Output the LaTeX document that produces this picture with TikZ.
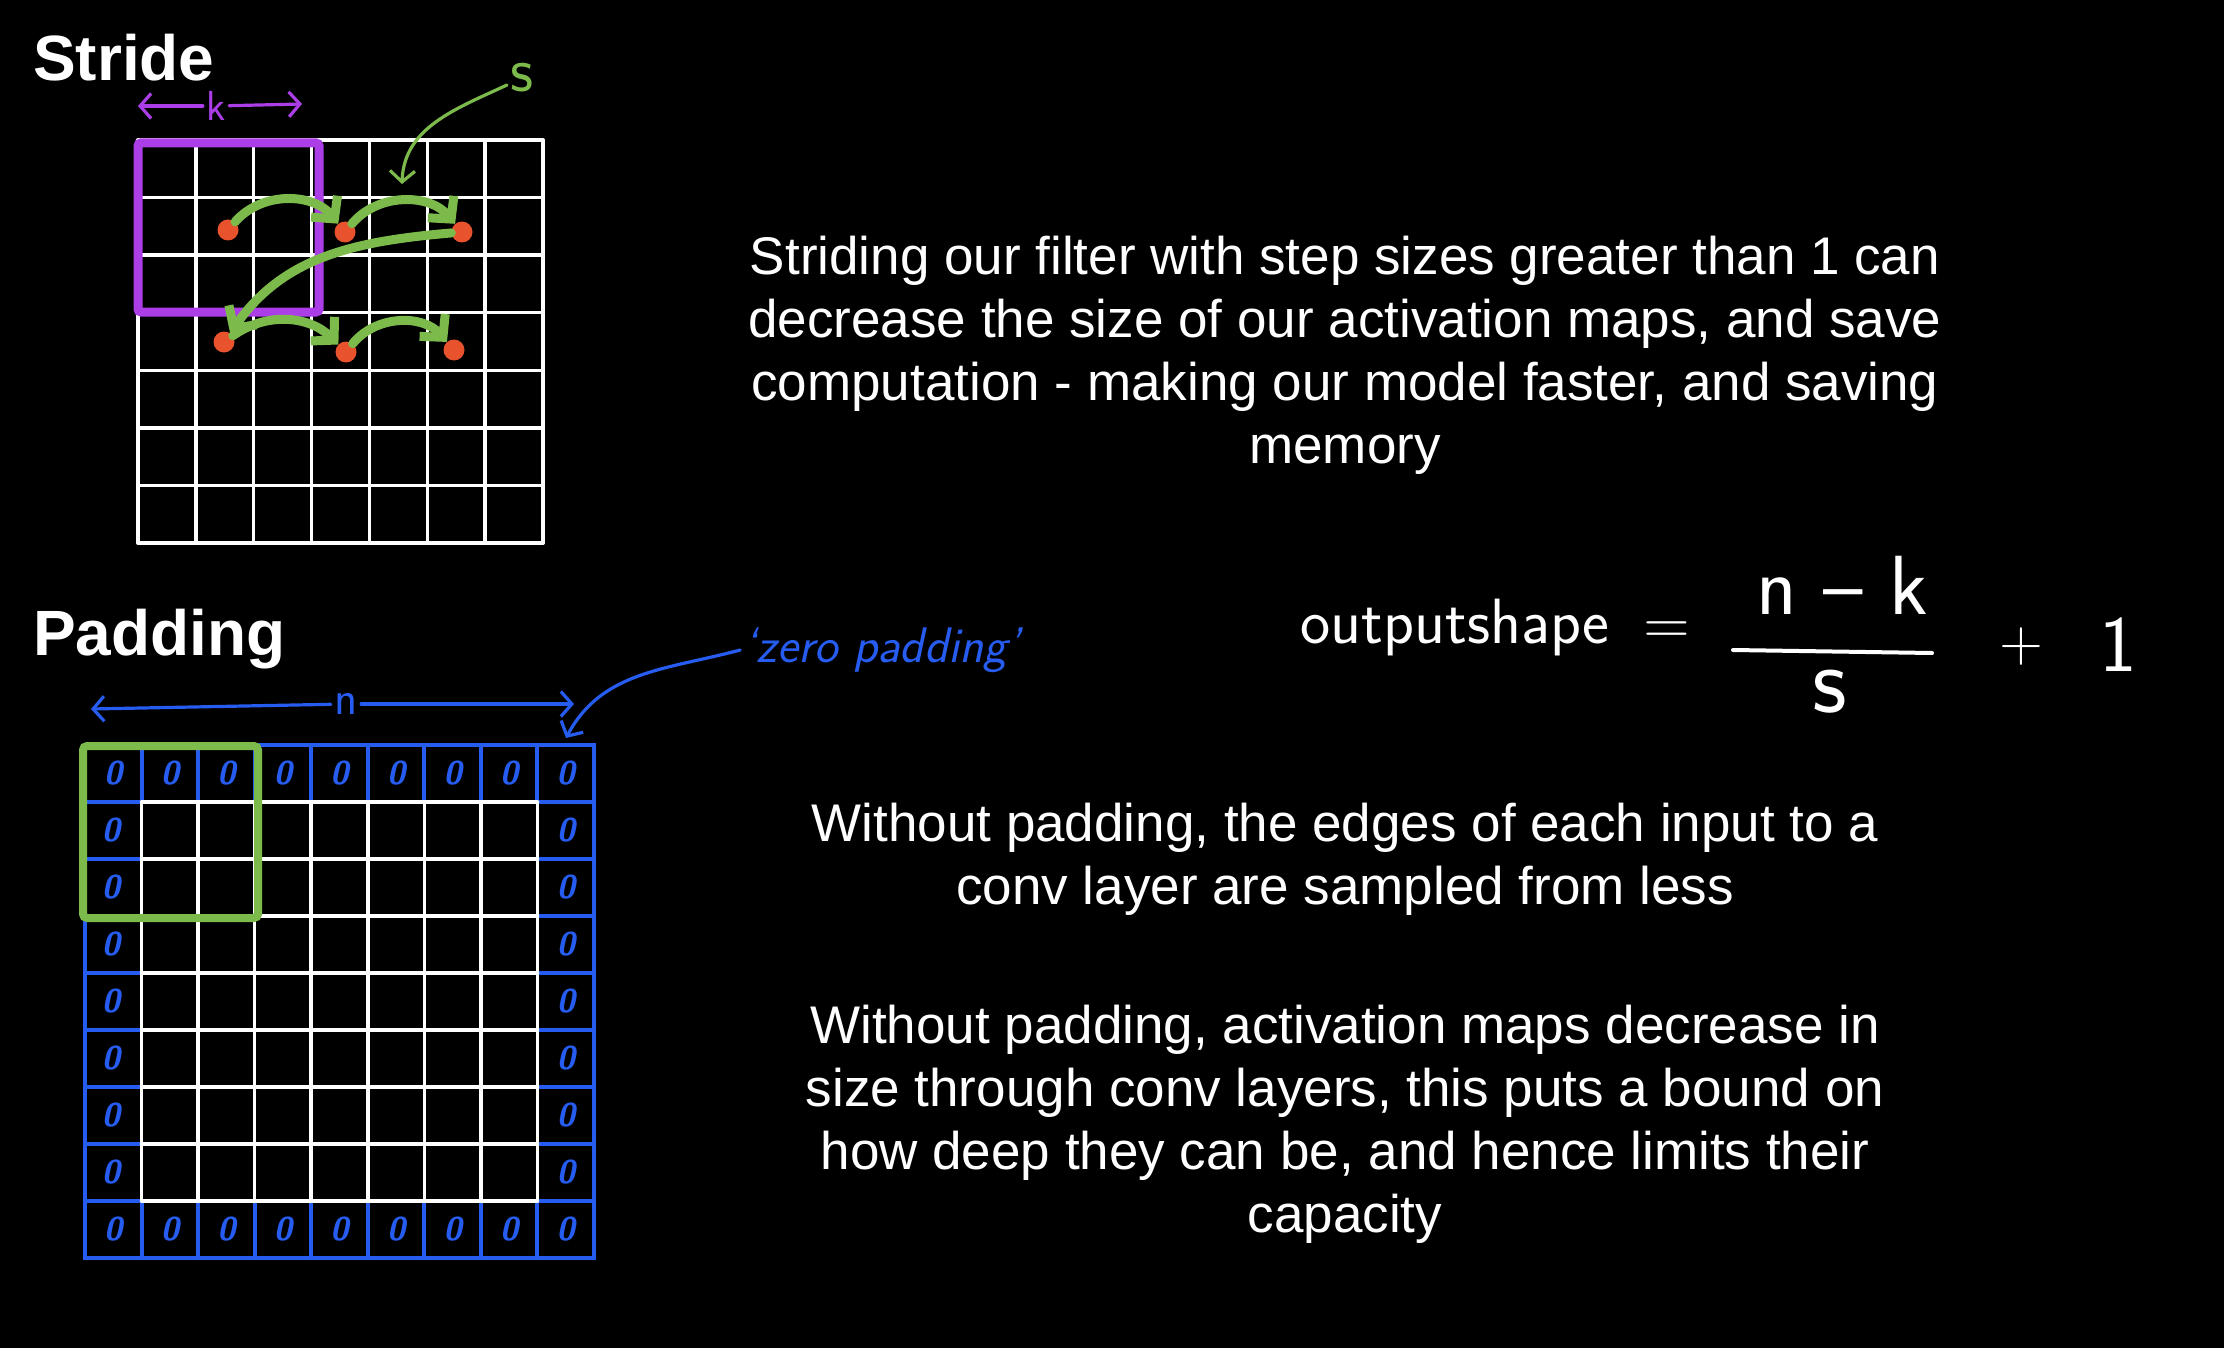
\documentclass[tikz,border=0pt]{standalone}
\usepackage{fontspec}
\setmainfont{Liberation Sans}
\usetikzlibrary{arrows.meta}
\definecolor{purp}{RGB}{172,62,232}
\definecolor{grn}{RGB}{124,186,76}
\definecolor{dotred}{RGB}{232,82,44}
\definecolor{blu}{RGB}{38,92,240}
\begin{document}
\begin{tikzpicture}[x=1pt,y=-1pt,
  wline/.style={white,line width=3.5pt,line cap=round},
  bline/.style={blu,line width=4pt,line cap=round},
  dot/.style={circle,fill=dotred,inner sep=0pt,minimum size=21pt},
  hop/.style={grn,line width=9pt,line cap=round,-{Straight Barb[length=16pt,width=34pt]}},
  thinarrow/.style={line width=3.2pt,line cap=round,-{Straight Barb[length=11pt,width=25pt]}},
  body/.style={text=white,font=\fontsize{53}{63}\selectfont,align=center},
  title/.style={text=white,font=\fontsize{64}{70}\selectfont\bfseries,anchor=base west,inner sep=0pt},
  hand/.style={text=white,font=\sffamily\fontsize{64}{70}\selectfont},
  zero/.style={text=blu,font=\sffamily\bfseries\itshape\fontsize{33}{33}\selectfont,inner sep=0pt}
]
\fill[black] (0,0) rectangle (2224,1348);
\useasboundingbox (0,0) rectangle (2224,1348);

% titles
\node[title] (stride) at (33,81) {Stride};
\node[title] (padding) at (33,655) {Padding};

% stride grid
\foreach \i in {0,...,7} {
  \draw[wline] ({138+57.86*\i},140) -- ({138+57.86*\i},543);
  \draw[wline] (138,{140+57.57*\i}) -- (543,{140+57.57*\i});
}
\draw[purp,line width=9pt,rounded corners=3pt] (138,143) rectangle (319,312);

% k arrow
\node[text=purp,font=\sffamily\fontsize{42}{42}\selectfont] (klab) at (216,106) {k};
\coordinate (kl) at (138,106);
\coordinate (kr) at (302,104);
\draw[thinarrow,purp] (klab) -- (kl);
\draw[thinarrow,purp] (klab) -- (kr);

% stride hops
\node[dot] (a1) at (228,230) {};
\node[dot] (a2) at (345,232) {};
\node[dot] (a3) at (462,232) {};
\node[dot] (b1) at (224,342) {};
\node[dot] (b2) at (346,352) {};
\node[dot] (b3) at (454,350) {};
\draw[hop] (a1) to[bend left=50] (a2);
\draw[hop] (a2) to[bend left=50] (a3);
\draw[hop] (a3) to[out=185,in=55] (b1);
\draw[hop] (b1) to[bend left=40] (b2);
\draw[hop] (b2) to[bend left=50] (b3);

% s label
\node[text=grn,font=\sffamily\fontsize{64}{64}\selectfont] (slab) at (522,78) {s};
\coordinate (s1) at (402,184);
\draw[thinarrow,grn] (slab) to[out=205,in=88] (s1);

% padding grid
\draw[bline] (85,745) rectangle (594,1258);
\foreach \i in {1,...,8} {
  \draw[bline] ({85+56.56*\i},745) -- ({85+56.56*\i},802);
  \draw[bline] ({85+56.56*\i},1201) -- ({85+56.56*\i},1258);
  \draw[bline] (85,{745+57*\i}) -- (141.56,{745+57*\i});
  \draw[bline] (537.5,{745+57*\i}) -- (594,{745+57*\i});
}
\foreach \i in {0,...,7} {
  \draw[wline] ({141.56+56.56*\i},802) -- ({141.56+56.56*\i},1201);
  \draw[wline] (141.56,{802+57*\i}) -- (537.5,{802+57*\i});
}
\foreach \i in {0,...,8} {
  \node[zero] (zt\i) at ({113.3+56.56*\i},773.5) {0};
  \node[zero] (zb\i) at ({113.3+56.56*\i},1229.5) {0};
}
\foreach \j in {1,...,7} {
  \node[zero] (zl\j) at (111,{773.5+57*\j}) {0};
  \node[zero] (zr\j) at (566,{773.5+57*\j}) {0};
}
\draw[grn,line width=8pt,rounded corners=4pt] (83,746) rectangle (258,918);

% n arrow
\node[text=blu,font=\sffamily\fontsize{48}{48}\selectfont] (nlab) at (346,704) {n};
\coordinate (nl) at (91,709);
\coordinate (nr) at (574,704);
\draw[thinarrow,blu] (nlab) -- (nl);
\draw[thinarrow,blu] (nlab) -- (nr);

% zero padding label
\node[text=blu,font=\sffamily\itshape\fontsize{50}{50}\selectfont] (zp) at (882,650) {‘zero padding’};
\coordinate (zpt) at (566,738);
\draw[thinarrow,blu] (zp.west) to[out=195,in=62] (zpt);

% formula
\node[hand] (os) at (1455,628) {outputshape};
\node[hand] (eq) at (1667,633) {=};
\node[hand,font=\sffamily\fontsize{84}{84}\selectfont] (num) at (1842,585) {n – k};
\coordinate (fl) at (1733,650);
\coordinate (fr) at (1932,653);
\draw[white,line width=4pt,line cap=round] (fl) -- (fr);
\node[hand,font=\sffamily\fontsize{96}{96}\selectfont] (den) at (1830,692) {s};
\node[hand,font=\sffamily\fontsize{60}{60}\selectfont] (plus) at (2021,647) {+};
\node[hand,font=\sffamily\fontsize{80}{80}\selectfont] (one) at (2118,645) {1};

% body texts
\node[body] (t1) at (1345,355) {Striding our filter with step sizes greater than 1 can\\decrease the size of our activation maps, and save\\computation - making our model faster, and saving\\memory};
\node[body] (t2) at (1345,859) {Without padding, the edges of each input to a\\conv layer are sampled from less};
\node[body] (t3) at (1345,1124) {Without padding, activation maps decrease in\\size through conv layers, this puts a bound on\\how deep they can be, and hence limits their\\capacity};
\end{tikzpicture}
\end{document}
